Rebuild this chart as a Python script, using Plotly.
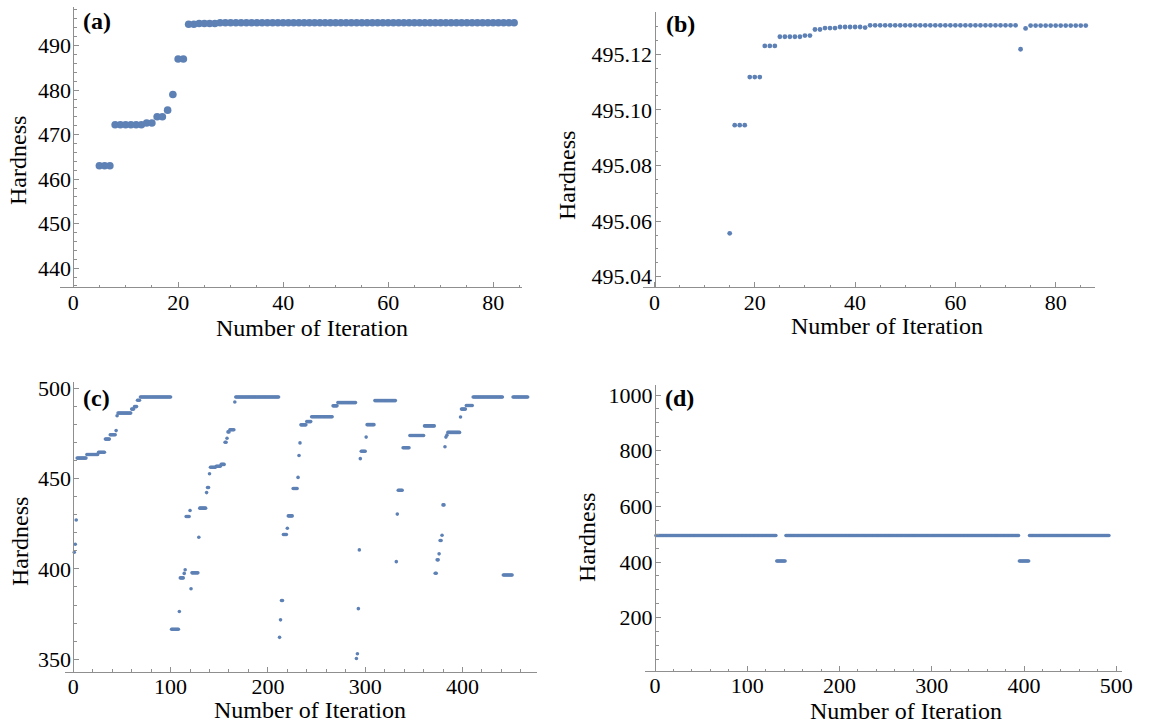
import plotly.graph_objects as go

# ---------------- data (runs of constant hardness: start iteration, end iteration, value) ----------------
a_runs = [(5, 7, 463.0), (8, 13, 472.2), (14, 15, 472.6), (16, 17, 474.0), (18, 18, 475.5),
          (19, 19, 479.0), (20, 21, 487.0), (22, 23, 494.8), (24, 27, 494.95), (28, 84, 495.13)]

b_runs = [(15, 15, 495.0556), (16, 18, 495.0945), (19, 21, 495.1118), (22, 24, 495.1230),
          (25, 29, 495.1263), (30, 31, 495.1267), (32, 33, 495.1289), (34, 36, 495.1294),
          (37, 41, 495.1298), (42, 42, 495.1296), (43, 72, 495.1304), (73, 73, 495.1218),
          (74, 74, 495.1293), (75, 86, 495.1303)]

c_runs = [(1, 1, 409.2), (2, 2, 413.6), (3, 3, 427.0), (4, 13, 461.3), (14, 25, 463.3),
          (26, 32, 464.5), (33, 37, 471.8), (38, 43, 474.2), (44, 44, 476.5), (45, 45, 484.7),
          (46, 59, 486.2), (60, 62, 488.4), (63, 65, 489.8), (66, 68, 493.3), (69, 100, 495.13),
          (101, 108, 366.6), (109, 109, 376.4), (110, 113, 395.0), (114, 114, 397.5),
          (115, 115, 399.5), (116, 119, 429.0), (120, 120, 432.3), (121, 121, 389.0),
          (122, 128, 397.8), (129, 129, 417.5), (130, 136, 433.6), (137, 137, 442.2),
          (138, 139, 445.0), (140, 140, 452.6), (141, 146, 456.2), (147, 151, 456.8),
          (152, 155, 457.8), (156, 157, 470.1), (158, 158, 472.3), (159, 160, 475.8),
          (161, 165, 477.0), (166, 166, 492.3), (167, 211, 495.13), (212, 212, 362.1),
          (213, 213, 371.8), (214, 215, 382.5), (216, 219, 419.0), (220, 220, 422.5),
          (221, 225, 429.3), (226, 230, 444.5), (231, 231, 450.6), (232, 232, 462.7),
          (233, 233, 469.7), (234, 239, 479.7), (240, 244, 481.5), (245, 266, 484.2),
          (267, 271, 490.2), (272, 290, 492.0), (291, 291, 350.4), (292, 292, 353.0),
          (293, 293, 378.0), (294, 294, 410.5), (295, 295, 461.0), (296, 300, 465.1),
          (301, 301, 472.9), (302, 309, 479.8), (310, 331, 493.1), (332, 332, 404.0),
          (333, 333, 430.3), (334, 338, 443.5), (339, 345, 467.0), (346, 360, 473.8),
          (361, 371, 479.1), (372, 373, 397.6), (374, 375, 405.0), (376, 376, 408.3),
          (377, 378, 415.7), (379, 379, 418.6), (380, 381, 435.4), (382, 382, 467.6),
          (383, 383, 472.9), (384, 384, 474.0), (385, 397, 475.5), (398, 398, 484.0),
          (399, 403, 488.4), (404, 410, 490.4), (411, 441, 495.13), (442, 451, 396.6),
          (452, 467, 495.13)]

d_runs = [(1, 131, 495.13), (132, 141, 404.0), (142, 394, 495.13), (395, 405, 404.0),
          (406, 492, 495.13)]

panel_labels = ["(a)", "(b)", "(c)", "(d)"]
x_title = "Number of Iteration"
y_title = "Hardness"


def expand(runs):
    xs, ys = [], []
    for s, e, v in runs:
        for i in range(s, e + 1):
            xs.append(i)
            ys.append(v)
    return xs, ys


W, H = 1149, 726
BLUE = "#5E81B5"
AX = "#8f8f8f"
FONT = "Liberation Serif"


def fx(px):
    return px / W


def fy(py):
    return 1 - py / H


# panel geometry in pixels: plot box (left, right, top, bottom), pixel x of y-axis
panels = [
    dict(runs=a_runs, box=(60, 522, 7.3, 287.3), yaxis_px=73.3, xr=[-2.5, 85.5], yr=[435.7, 498.6],
         xd=20, xm=5, yd=10, ym=2, size=7.6, fmt=None),
    dict(runs=b_runs, box=(643, 1095, 11.7, 287.3), yaxis_px=654.5, xr=[-2.29, 87.84],
         yr=[495.0362, 495.1353], xd=20, xm=5, yd=0.02, ym=0.005, size=4.8, fmt=".2f"),
    dict(runs=c_runs, box=(65, 537, 382, 671.7), yaxis_px=73.3, xr=[-8.53, 476.6], yr=[343.1, 503.4],
         xd=100, xm=20, yd=50, ym=10, size=3.6, fmt=None),
    dict(runs=d_runs, box=(645, 1122, 385, 671), yaxis_px=655, xr=[-10.84, 506.2], yr=[8.6, 1036],
         xd=100, xm=20, yd=200, ym=50, size=3.6, fmt=None),
]

fig = go.Figure()
layout = {}
for k, p in enumerate(panels):
    n = "" if k == 0 else str(k + 1)
    xs, ys = expand(p["runs"])
    fig.add_trace(go.Scatter(x=xs, y=ys, mode="markers", xaxis="x" + n, yaxis="y" + n,
                             marker=dict(color=BLUE, size=p["size"], line=dict(width=0)),
                             showlegend=False, hoverinfo="x+y", cliponaxis=False))
    l, r, t, b = p["box"]
    tickfont = dict(family=FONT, size=22, color="black")
    layout["xaxis" + n] = dict(domain=[fx(l), fx(r)], anchor="y" + n, range=p["xr"],
                               automargin=False, ticklabelstandoff=-5,
                               showline=True, linecolor=AX, linewidth=1, showgrid=False,
                               zeroline=False, ticks="inside", ticklen=5, tickcolor=AX,
                               dtick=p["xd"], tick0=0, tickfont=tickfont,
                               minor=dict(dtick=p["xm"], tick0=0, ticks="inside", ticklen=2.5,
                                          tickcolor=AX, showgrid=False))
    yax = dict(domain=[fy(b), fy(t)], anchor="free", position=fx(p["yaxis_px"]), range=p["yr"],
               automargin=False, ticklabelstandoff=-2,
               showline=True, linecolor=AX, linewidth=1, showgrid=False, zeroline=False,
               ticks="inside", ticklen=5, tickcolor=AX, dtick=p["yd"], tick0=0,
               tickfont=tickfont,
               minor=dict(dtick=p["ym"], tick0=0, ticks="inside", ticklen=2.5, tickcolor=AX,
                          showgrid=False))
    if p["fmt"]:
        yax["tickformat"] = p["fmt"]
    layout["yaxis" + n] = yax

ann = []
# panel labels
for lab, (cx, cy) in zip(panel_labels, [(97.5, 21), (680, 24), (96.7, 397.5), (679, 398)]):
    ann.append(dict(text="<b>%s</b>" % lab, x=fx(cx), y=fy(cy), xref="paper", yref="paper",
                    xanchor="center", yanchor="middle", showarrow=False,
                    font=dict(family=FONT, size=24, color="black")))
# x titles
for cx, cy in [(312, 328), (887, 326), (310, 710), (906, 711)]:
    ann.append(dict(text=x_title, x=fx(cx), y=fy(cy), xref="paper", yref="paper",
                    xanchor="center", yanchor="middle", showarrow=False,
                    font=dict(family=FONT, size=24, color="black")))
# y titles
for cx, cy in [(18, 161), (567, 176), (20, 542), (587, 538)]:
    ann.append(dict(text=y_title, x=fx(cx), y=fy(cy), xref="paper", yref="paper",
                    xanchor="center", yanchor="middle", showarrow=False, textangle=-90,
                    font=dict(family=FONT, size=24, color="black")))

fig.update_layout(width=W, height=H, margin=dict(l=0, r=0, t=0, b=0, autoexpand=False),
                  paper_bgcolor="white", plot_bgcolor="white", annotations=ann, **layout)
fig.write_html("out.html", config={"displayModeBar": False},
               post_script="document.body.style.margin='0';document.body.style.overflow='hidden';")
